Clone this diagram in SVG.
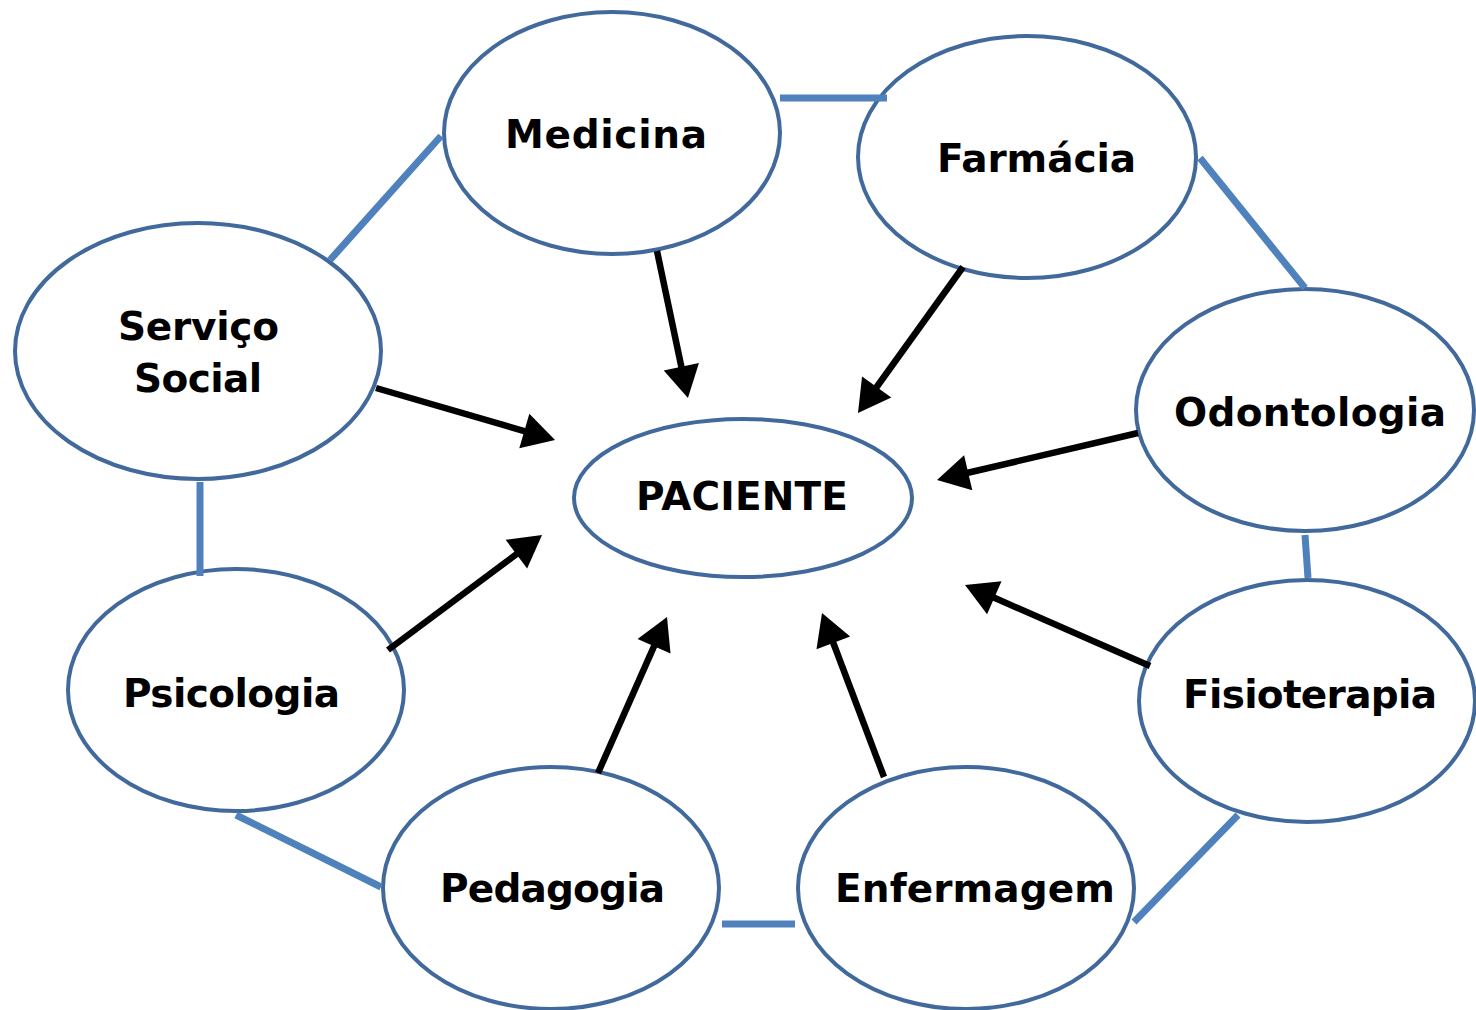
<svg xmlns="http://www.w3.org/2000/svg" width="1476" height="1010" viewBox="0 0 1476 1010">
<style>
.node ellipse{fill:#fff;stroke:#41699C;stroke-width:4}
.node text{font-family:"DejaVu Sans","Verdana",sans-serif;font-weight:bold;font-size:39px;fill:#000;text-anchor:middle}
.link{stroke:#4F81BD;stroke-width:7;fill:none}
.arrow{stroke:#000;stroke-width:6.5;fill:none;marker-end:url(#ah)}
</style>
<defs>
<marker id="ah" markerUnits="userSpaceOnUse" markerWidth="34" markerHeight="38" refX="8" refY="18" orient="auto" overflow="visible">
<path d="M0,0 L32,18 L0,36 z" fill="#000"/>
</marker>
</defs>
<rect width="1476" height="1010" fill="#fff"/>
<g id="medicina" class="node"><ellipse cx="612" cy="133" rx="168" ry="121"/><text x="606" y="148" textLength="202">Medicina</text></g>
<g id="farmacia" class="node"><ellipse cx="1027" cy="157" rx="169" ry="121"/><text x="1036.5" y="172" textLength="199">Farmácia</text></g>
<g id="servico-social" class="node"><ellipse cx="198" cy="351" rx="183" ry="128"/><text x="198.5" y="340" textLength="161">Serviço</text><text x="198" y="392" textLength="128">Social</text></g>
<g id="paciente" class="node"><ellipse cx="743" cy="498" rx="169" ry="79"/><text x="742" y="510" textLength="212">PACIENTE</text></g>
<g id="odontologia" class="node"><ellipse cx="1305" cy="410" rx="169" ry="121"/><text x="1310" y="426" textLength="272">Odontologia</text></g>
<g id="fisioterapia" class="node"><ellipse cx="1307" cy="701" rx="168" ry="121"/><text x="1310" y="708" textLength="254">Fisioterapia</text></g>
<g id="psicologia" class="node"><ellipse cx="236" cy="690" rx="168" ry="121"/><text x="231.5" y="707" textLength="217">Psicologia</text></g>
<g id="pedagogia" class="node"><ellipse cx="551" cy="888" rx="168" ry="121"/><text x="552.5" y="902" textLength="225">Pedagogia</text></g>
<g id="enfermagem" class="node"><ellipse cx="966" cy="888" rx="168" ry="121"/><text x="975" y="902" textLength="280">Enfermagem</text></g>
<g id="connectors">
<line class="link" x1="780" y1="98" x2="887" y2="98"/>
<line class="link" x1="441" y1="136" x2="330" y2="260"/>
<line class="link" x1="1200" y1="158" x2="1305" y2="288"/>
<line class="link" x1="200" y1="482" x2="200" y2="576"/>
<line class="link" x1="1305" y1="535" x2="1308" y2="578"/>
<line class="link" x1="236" y1="815" x2="381" y2="887"/>
<line class="link" x1="722" y1="924" x2="795" y2="924"/>
<line class="link" x1="1134" y1="922" x2="1238" y2="815"/>
<line class="arrow" x1="657" y1="251" x2="683" y2="374.5"/>
<line class="arrow" x1="963" y1="267" x2="872" y2="393.5"/>
<line class="arrow" x1="376" y1="388" x2="532" y2="433.3"/>
<line class="arrow" x1="1138" y1="433" x2="960.4" y2="474.5"/>
<line class="arrow" x1="388" y1="650" x2="522.8" y2="549.4"/>
<line class="arrow" x1="598" y1="773" x2="657.3" y2="638.9"/>
<line class="arrow" x1="884" y1="777" x2="830.5" y2="635.5"/>
<line class="arrow" x1="1150" y1="666" x2="987" y2="594.6"/>
</g>
</svg>
